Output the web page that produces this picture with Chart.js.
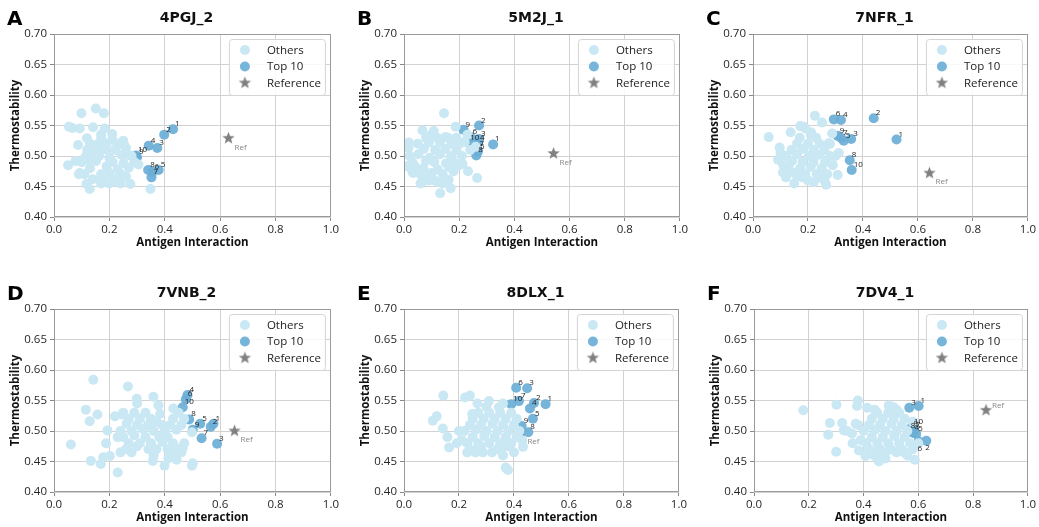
<!DOCTYPE html>
<html>
<head>
<meta charset="utf-8">
<script src="https://cdn.jsdelivr.net/npm/chart.js@4.4.0/dist/chart.umd.min.js"></script>
<style>
  body { margin: 0; background: #fff; width: 1039px; height: 527px; position: relative; overflow: hidden; }
  .panel { position: absolute; }
  .panel canvas { display: block; }
  .letter { position: absolute; font: bold 20px 'DejaVu Sans', sans-serif; color: #000; line-height: 1; }
  .title { position: absolute; text-align: center; font: bold 14px 'DejaVu Sans', sans-serif; color: #111; line-height: 1; }
</style>
</head>
<body>
<script>
// panel titles / letters
const letters = ['A', 'B', 'C', 'D', 'E', 'F'];
const titles = ['4PGJ_2', '5M2J_1', '7NFR_1', '7VNB_2', '8DLX_1', '7DV4_1'];

// --- A: 4PGJ_2 ---
const othersA = [
  [0.054,0.548],[0.066,0.546],[0.099,0.570],[0.151,0.578],[0.180,0.570],[0.141,0.547],[0.093,0.545],
  [0.183,0.545],[0.087,0.518],[0.119,0.529],[0.171,0.530],[0.210,0.536],[0.254,0.518],[0.229,0.518],
  [0.114,0.499],[0.051,0.485],[0.078,0.492],[0.093,0.472],[0.117,0.454],[0.129,0.446],[0.276,0.454],
  [0.348,0.446],[0.305,0.486],[0.267,0.502],[0.225,0.458],[0.165,0.461],
  [0.12,0.51],[0.143,0.503],[0.16,0.52],[0.184,0.511],[0.20,0.497],[0.22,0.51],[0.243,0.502],[0.26,0.513],
  [0.13,0.48],[0.152,0.492],[0.17,0.47],[0.19,0.483],[0.212,0.49],[0.23,0.478],[0.251,0.488],[0.27,0.481],
  [0.11,0.47],[0.14,0.462],[0.18,0.46],[0.20,0.472],[0.22,0.462],[0.241,0.47],[0.26,0.466],[0.163,0.50],
  [0.19,0.52],[0.21,0.527],[0.235,0.52],[0.17,0.535],[0.15,0.51],[0.10,0.49],[0.123,0.494],[0.28,0.50],
  [0.25,0.525],[0.20,0.455],[0.17,0.455],[0.24,0.455],[0.13,0.52],[0.09,0.47],[0.29,0.49]
];
const top10A = [
  [0.430,0.544],[0.398,0.535],[0.373,0.513],[0.342,0.517],[0.378,0.477],
  [0.356,0.474],[0.352,0.465],[0.340,0.477],[0.300,0.498],[0.296,0.501]
];
const refA = [0.630, 0.529];

// --- B: 5M2J_1 ---
const othersB = [
  [0.145,0.570],[0.187,0.548],[0.017,0.522],[0.016,0.513],[0.067,0.542],[0.108,0.541],[0.150,0.531],
  [0.067,0.458],[0.131,0.439],[0.169,0.447],[0.232,0.475],[0.265,0.464],[0.212,0.487],[0.012,0.483],
  [0.033,0.472],[0.081,0.472],[0.162,0.461],[0.125,0.457],
  [0.03,0.49],[0.052,0.503],[0.07,0.48],[0.093,0.497],[0.11,0.49],[0.13,0.503],[0.152,0.488],[0.17,0.50],
  [0.19,0.51],[0.04,0.483],[0.06,0.47],[0.08,0.492],[0.10,0.472],[0.122,0.478],[0.14,0.47],[0.163,0.482],
  [0.18,0.49],[0.05,0.52],[0.072,0.512],[0.09,0.522],[0.113,0.51],[0.13,0.522],[0.15,0.512],[0.172,0.52],
  [0.20,0.52],[0.22,0.523],[0.08,0.53],[0.10,0.535],[0.12,0.53],[0.16,0.53],[0.02,0.50],[0.03,0.475],
  [0.21,0.50],[0.24,0.51],[0.26,0.515],[0.23,0.535],[0.19,0.53],[0.11,0.46],[0.09,0.46],[0.14,0.455],
  [0.06,0.455],[0.18,0.475],[0.20,0.485]
];
const top10B = [
  [0.323,0.519],[0.272,0.550],[0.272,0.528],[0.268,0.522],[0.268,0.507],
  [0.241,0.531],[0.266,0.511],[0.262,0.501],[0.216,0.543],[0.233,0.522]
];
const refB = [0.542, 0.504];

// --- C: 7NFR_1 ---
const othersC = [
  [0.057,0.531],[0.225,0.566],[0.172,0.549],[0.137,0.539],[0.251,0.555],[0.211,0.539],[0.097,0.514],
  [0.091,0.494],[0.109,0.473],[0.161,0.467],[0.221,0.457],[0.266,0.453],[0.308,0.469],[0.312,0.505],
  [0.275,0.521],[0.288,0.537],[0.185,0.548],
  [0.12,0.50],[0.142,0.492],[0.16,0.503],[0.18,0.49],[0.203,0.50],[0.22,0.49],[0.24,0.502],[0.262,0.49],
  [0.28,0.50],[0.13,0.48],[0.15,0.472],[0.172,0.48],[0.19,0.47],[0.21,0.482],[0.232,0.47],[0.25,0.48],
  [0.27,0.47],[0.14,0.51],[0.16,0.52],[0.182,0.512],[0.20,0.52],[0.22,0.51],[0.242,0.52],[0.26,0.51],
  [0.28,0.52],[0.17,0.53],[0.19,0.545],[0.10,0.505],[0.11,0.485],[0.29,0.485],[0.24,0.465],[0.20,0.46],
  [0.18,0.465],[0.26,0.46],[0.12,0.465],[0.15,0.455],[0.30,0.50],[0.23,0.53],[0.21,0.535]
];
const top10C = [
  [0.522,0.527],[0.439,0.562],[0.357,0.528],[0.320,0.559],[0.330,0.525],
  [0.294,0.560],[0.320,0.530],[0.352,0.493],[0.308,0.533],[0.359,0.477]
];
const refC = [0.642, 0.472];

// --- D: 7VNB_2 ---
const othersD = [
  [0.061,0.478],[0.142,0.584],[0.115,0.535],[0.157,0.527],[0.129,0.516],[0.133,0.451],[0.169,0.446],
  [0.178,0.457],[0.202,0.459],[0.188,0.480],[0.193,0.501],[0.230,0.432],[0.267,0.573],[0.299,0.553],
  [0.359,0.556],[0.377,0.542],[0.383,0.528],[0.341,0.470],[0.357,0.451],[0.399,0.443],[0.413,0.455],
  [0.443,0.453],[0.498,0.443],[0.501,0.447],[0.465,0.472],[0.431,0.537],[0.498,0.498],[0.220,0.524],
  [0.245,0.527],
  [0.24,0.50],[0.262,0.512],[0.28,0.50],[0.30,0.51],[0.322,0.503],[0.34,0.51],[0.36,0.50],[0.38,0.49],
  [0.40,0.50],[0.42,0.51],[0.442,0.502],[0.46,0.51],[0.25,0.49],[0.27,0.48],[0.29,0.493],[0.31,0.48],
  [0.33,0.49],[0.35,0.48],[0.37,0.47],[0.392,0.482],[0.41,0.47],[0.43,0.48],[0.45,0.47],[0.47,0.48],
  [0.26,0.47],[0.28,0.465],[0.30,0.475],[0.24,0.465],[0.27,0.52],[0.29,0.53],[0.31,0.52],[0.33,0.53],
  [0.35,0.52],[0.37,0.515],[0.43,0.52],[0.45,0.53],[0.47,0.52],[0.42,0.465],[0.44,0.46],[0.46,0.465],
  [0.23,0.49],[0.41,0.49],[0.30,0.545],[0.25,0.53],[0.39,0.51],[0.36,0.46]
];
const top10D = [
  [0.576,0.512],[0.566,0.507],[0.589,0.479],[0.482,0.559],[0.528,0.512],
  [0.476,0.552],[0.533,0.488],[0.488,0.519],[0.501,0.502],[0.465,0.539]
];
const refD = [0.652, 0.500];

// --- E: 8DLX_1 ---
const othersE = [
  [0.105,0.517],[0.119,0.524],[0.143,0.558],[0.141,0.504],[0.158,0.490],[0.164,0.473],[0.192,0.480],
  [0.222,0.555],[0.240,0.558],[0.248,0.528],[0.267,0.545],[0.309,0.549],[0.345,0.539],[0.370,0.440],
  [0.378,0.436],[0.287,0.465],[0.261,0.468],[0.433,0.474],[0.358,0.473],
  [0.22,0.50],[0.24,0.51],[0.262,0.502],[0.28,0.51],[0.30,0.50],[0.322,0.512],[0.34,0.50],[0.36,0.51],
  [0.38,0.50],[0.40,0.51],[0.23,0.48],[0.25,0.49],[0.27,0.48],[0.292,0.492],[0.31,0.48],[0.33,0.49],
  [0.35,0.48],[0.37,0.49],[0.39,0.48],[0.41,0.49],[0.24,0.47],[0.26,0.465],[0.28,0.475],[0.32,0.465],
  [0.34,0.47],[0.38,0.475],[0.25,0.52],[0.27,0.53],[0.29,0.52],[0.31,0.53],[0.33,0.52],[0.35,0.53],
  [0.37,0.52],[0.39,0.53],[0.41,0.52],[0.30,0.54],[0.36,0.545],[0.21,0.485],[0.20,0.50],[0.23,0.465],
  [0.42,0.50],[0.43,0.485],[0.40,0.465],[0.36,0.46]
];
const top10E = [
  [0.515,0.544],[0.473,0.546],[0.448,0.570],[0.458,0.537],[0.469,0.520],
  [0.408,0.571],[0.418,0.549],[0.452,0.498],[0.428,0.508],[0.390,0.544]
];
const refE = [0.427, 0.498];

// --- F: 7DV4_1 ---
const othersF = [
  [0.180,0.534],[0.301,0.543],[0.271,0.494],[0.277,0.513],[0.300,0.466],[0.322,0.513],[0.379,0.550],
  [0.376,0.541],[0.413,0.538],[0.456,0.450],[0.441,0.459],[0.587,0.453],[0.549,0.465],[0.510,0.539],
  [0.492,0.542],[0.371,0.512],[0.328,0.501],[0.358,0.496],[0.383,0.468],[0.407,0.459],
  [0.40,0.50],[0.42,0.51],[0.442,0.502],[0.46,0.51],[0.48,0.50],[0.502,0.512],[0.52,0.50],[0.54,0.51],
  [0.56,0.50],[0.41,0.48],[0.43,0.49],[0.45,0.48],[0.47,0.49],[0.49,0.48],[0.512,0.492],[0.53,0.48],
  [0.55,0.49],[0.57,0.48],[0.42,0.47],[0.44,0.465],[0.46,0.47],[0.48,0.465],[0.50,0.47],[0.52,0.465],
  [0.54,0.47],[0.43,0.52],[0.45,0.53],[0.47,0.52],[0.49,0.53],[0.51,0.52],[0.53,0.53],[0.55,0.52],
  [0.50,0.54],[0.52,0.535],[0.44,0.535],[0.39,0.485],[0.38,0.51],[0.58,0.47],[0.56,0.46],[0.60,0.48],
  [0.58,0.515],[0.48,0.455],[0.46,0.455],[0.36,0.48],[0.34,0.50]
];
const top10F = [
  [0.601,0.541],[0.629,0.484],[0.567,0.538],[0.580,0.497],[0.592,0.495],
  [0.601,0.483],[0.583,0.502],[0.565,0.500],[0.575,0.503],[0.577,0.507]
];
const refF = [0.847, 0.534];

const othersAll = [othersA, othersB, othersC, othersD, othersE, othersF];
const top10All = [top10A, top10B, top10C, top10D, top10E, top10F];
const refAll = [refA, refB, refC, refD, refE, refF];

// layout of the 6 panels (page pixels)
const boxes = [
  { left: 0,   top: 0,   plotW: 277 },
  { left: 350, top: 0,   plotW: 276 },
  { left: 699, top: 0,   plotW: 275 },
  { left: 0,   top: 275, plotW: 277 },
  { left: 350, top: 275, plotW: 275 },
  { left: 700, top: 275, plotW: 274 }
];
const AXIS_W = 54, PAD_TOP = 34, PAD_R = 10, X_AXIS_H = 35, PLOT_H = 183;

const colOthers = '#c9e8f4';
const colTop = 'rgba(107,174,214,0.92)';
const colRef = '#808080';
const baseFont = "'Open Sans', sans-serif";

// filled 5-point star used as point style
function makeStar(r) {
  const c = document.createElement('canvas');
  const s = Math.ceil(r * 2 + 2);
  c.width = s; c.height = s;
  const g = c.getContext('2d');
  g.fillStyle = colRef;
  g.beginPath();
  for (let i = 0; i < 10; i++) {
    const rad = i % 2 === 0 ? r : r * 0.42;
    const a = -Math.PI / 2 + i * Math.PI / 5;
    const px = s / 2 + rad * Math.cos(a), py = s / 2 + rad * Math.sin(a);
    if (i === 0) g.moveTo(px, py); else g.lineTo(px, py);
  }
  g.closePath();
  g.fill();
  return c;
}
const star = makeStar(6.5);

// labels next to top10 points and the reference
const labelPlugin = {
  id: 'pointLabels',
  afterDatasetsDraw(chart) {
    const ctx = chart.ctx;
    const opts = chart.options.plugins.pointLabels;
    ctx.save();
    ctx.font = '8px ' + baseFont;
    ctx.fillStyle = '#222';
    ctx.textAlign = 'left';
    ctx.textBaseline = 'alphabetic';
    chart.getDatasetMeta(1).data.forEach((el, i) => {
      const lab = String(i + 1);
      if (opts.below && opts.below.includes(lab)) {
        ctx.textBaseline = 'top';
        ctx.fillText(lab, el.x - 1, el.y + 3);
        ctx.textBaseline = 'alphabetic';
      } else {
        ctx.fillText(lab, el.x + 2, el.y - 3);
      }
    });
    const r = chart.getDatasetMeta(2).data[0];
    ctx.fillStyle = '#888';
    if (opts.refAbove) {
      ctx.textBaseline = 'alphabetic';
      ctx.fillText('Ref', r.x + 6, r.y - 2);
    } else {
      ctx.textBaseline = 'top';
      ctx.fillText('Ref', r.x + 6, r.y + 5);
    }
    ctx.restore();
  }
};

// frame + legend box inside the plot
const framePlugin = {
  id: 'frameLegend',
  afterDraw(chart) {
    const ctx = chart.ctx;
    const a = chart.chartArea;
    ctx.save();
    ctx.strokeStyle = '#9a9a9a';
    ctx.lineWidth = 1;
    ctx.strokeRect(Math.round(a.left) + 0.5, Math.round(a.top) + 0.5,
      Math.round(a.right - a.left) - 1, Math.round(a.bottom - a.top) - 1);

    const w = 96, h = 56;
    const x0 = a.right - 6 - w, y0 = a.top + 5;
    ctx.beginPath();
    ctx.roundRect(x0 + 0.5, y0 + 0.5, w, h, 3);
    ctx.fillStyle = 'rgba(255,255,255,0.85)';
    ctx.fill();
    ctx.strokeStyle = '#d4d4d4';
    ctx.stroke();

    const items = chart.data.datasets;
    ctx.font = '11.5px ' + baseFont;
    ctx.textBaseline = 'middle';
    ctx.textAlign = 'left';
    items.forEach((ds, i) => {
      const cy = y0 + 11 + i * 16.5;
      const cx = x0 + 16;
      if (i < 2) {
        ctx.beginPath();
        ctx.arc(cx, cy, 5, 0, Math.PI * 2);
        ctx.fillStyle = ds.backgroundColor;
        ctx.fill();
      } else {
        ctx.drawImage(star, cx - star.width / 2, cy - star.height / 2);
      }
      ctx.fillStyle = '#222';
      ctx.fillText(ds.label, x0 + 38, cy + 0.5);
    });
    ctx.restore();
  }
};

function toPts(arr) {
  return arr.map(p => ({ x: p[0], y: p[1] }));
}

function crearPanel(i) {
  const b = boxes[i];
  const w = AXIS_W + b.plotW + PAD_R;
  const h = PAD_TOP + PLOT_H + X_AXIS_H;

  const div = document.createElement('div');
  div.className = 'panel';
  div.style.left = b.left + 'px';
  div.style.top = b.top + 'px';
  const cv = document.createElement('canvas');
  cv.width = w; cv.height = h;
  div.appendChild(cv);
  document.body.appendChild(div);

  const let_ = document.createElement('div');
  let_.className = 'letter';
  let_.textContent = letters[i];
  let_.style.left = (b.left + 7) + 'px';
  let_.style.top = (b.top + 8) + 'px';
  document.body.appendChild(let_);

  const t = document.createElement('div');
  t.className = 'title';
  t.textContent = titles[i];
  t.style.left = (b.left + AXIS_W - 6) + 'px';
  t.style.width = b.plotW + 'px';
  t.style.top = (b.top + 10) + 'px';
  document.body.appendChild(t);

  const tickFont = { family: baseFont, size: 11.5 };
  const titleFont = { family: baseFont, size: 11.5, weight: 'bold' };

  new Chart(cv, {
    type: 'scatter',
    data: {
      datasets: [
        {
          label: 'Others',
          data: toPts(othersAll[i]),
          backgroundColor: colOthers,
          borderWidth: 0,
          pointRadius: 5,
        },
        {
          label: 'Top 10',
          data: toPts(top10All[i]),
          backgroundColor: colTop,
          borderWidth: 0,
          pointRadius: 5,
        },
        {
          label: 'Reference',
          data: toPts([refAll[i]]),
          backgroundColor: colRef,
          pointStyle: star,
          pointRadius: 6,
        },
      ]
    },
    options: {
      responsive: false,
      animation: false,
      devicePixelRatio: 1,
      layout: { padding: { top: PAD_TOP, right: PAD_R, left: 0, bottom: 0 } },
      plugins: {
        legend: { display: false },
        tooltip: { enabled: false },
        pointLabels: { below: i === 5 ? ['6', '2'] : [], refAbove: i === 5 },
      },
      scales: {
        x: {
          type: 'linear', min: 0, max: 1,
          ticks: { stepSize: 0.2, callback: v => v.toFixed(1), font: tickFont, color: '#262626', padding: 2, maxRotation: 0 },
          grid: { color: '#d2d2d2', tickLength: 4, tickColor: '#888' },
          border: { display: false },
          title: { display: true, text: 'Antigen Interaction', font: titleFont, color: '#111', padding: { top: 0, bottom: 2 } },
          afterFit: s => { s.height = X_AXIS_H; },
        },
        y: {
          type: 'linear', min: 0.4, max: 0.7,
          ticks: { stepSize: 0.05, callback: v => v.toFixed(2), font: tickFont, color: '#262626', padding: 3 },
          grid: { color: '#d2d2d2', tickLength: 4, tickColor: '#888' },
          border: { display: false },
          title: { display: true, text: 'Thermostability', font: titleFont, color: '#111', padding: { top: 9, bottom: 0 } },
          afterFit: s => { s.width = AXIS_W; },
        }
      }
    },
    plugins: [labelPlugin, framePlugin]
  });
}

for (let i = 0; i < 6; i++) crearPanel(i);
</script>
</body>
</html>
